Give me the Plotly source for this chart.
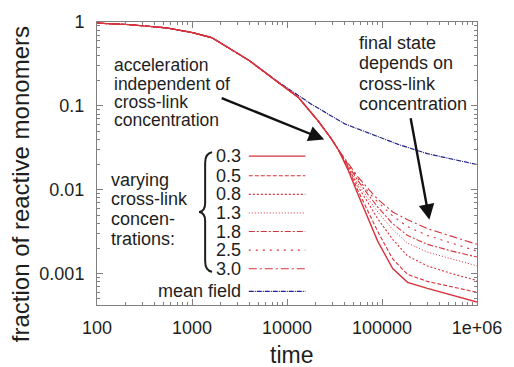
import plotly.graph_objects as go

# ---------------- data ----------------
concentrations = ["0.3", "0.5", "0.8", "1.3", "1.8", "2.5", "3.0"]

# common early part shared by all cross-link concentrations
t_common = [100, 220, 540, 1000, 1620, 2700, 3960, 8150, 13200, 21300, 29200]
f_common = [0.97, 0.93, 0.85, 0.75, 0.65, 0.46, 0.35, 0.189, 0.126, 0.066, 0.0408]

# late part, where the curves separate
t_tail = [34500, 43900, 55800, 71000, 90300, 129500, 185800, 300500, 548000, 1000000]
f_tail_03 = [0.0304, 0.0173, 0.00884, 0.00452, 0.00243, 0.00115, 0.00079, 0.00067, 0.00055, 0.00046]
f_tail_05 = [0.0304, 0.0183, 0.00984, 0.00560, 0.00318, 0.00150, 0.00098, 0.00081, 0.00069, 0.00060]
f_tail_08 = [0.0304, 0.0188, 0.0110, 0.00694, 0.00452, 0.00257, 0.00163, 0.00124, 0.00100, 0.00083]
f_tail_13 = [0.0304, 0.0193, 0.0119, 0.00794, 0.00545, 0.00336, 0.00231, 0.00181, 0.00150, 0.00124]
f_tail_18 = [0.0304, 0.0198, 0.0129, 0.00884, 0.00623, 0.00395, 0.00286, 0.00224, 0.00186, 0.00158]
f_tail_25 = [0.0304, 0.0203, 0.0136, 0.00958, 0.00713, 0.00490, 0.00364, 0.00286, 0.00231, 0.00186]
f_tail_30 = [0.0304, 0.0209, 0.0143, 0.0104, 0.00773, 0.00545, 0.00440, 0.00345, 0.00279, 0.00224]

t_mean = [100, 220, 540, 1000, 1620, 2700, 3960, 8150, 18000, 40700, 90000, 146000, 300000, 600000, 1000000]
f_mean = [0.97, 0.93, 0.85, 0.75, 0.65, 0.46, 0.35, 0.192, 0.105, 0.061, 0.043, 0.035, 0.027, 0.0225, 0.020]

x_tickvals = [100, 1000, 10000, 100000, 1000000]
x_ticktext = ["100", "1000", "10000", "100000", "1e+06"]
y_tickvals = [1, 0.1, 0.01, 0.001]
y_ticktext = ["1", "0.1", "0.01", "0.001"]

# ---------------- styling ----------------
RED = "#d8323c"
BLUE = "#22228a"
TXT = "#1e1e1e"
AX = "#808080"
FONT = "Liberation Sans, Arial, sans-serif"

tails = [f_tail_03, f_tail_05, f_tail_08, f_tail_13, f_tail_18, f_tail_25, f_tail_30]
dashes = ["solid", "4px,2px", "2px,2px", "1px,2px", "6px,2px,2px,2px", "2px,5px", "8px,3px,2px,3px"]
widths = [1.4, 1.1, 1.1, 1.0, 1.1, 1.1, 1.1]
MEAN_DASH = "5px,1px,1px,1px"

W, H = 514, 367
L, R, T, B = 97, 480, 16, 305


def px(x):
    return (x - L) / (R - L)


def py(y):
    return (B - y) / (B - T)


fig = go.Figure()

fig.add_trace(go.Scatter(x=t_mean, y=f_mean, mode="lines",
                         line=dict(color=BLUE, width=1.2, dash=MEAN_DASH),
                         name="mean field", showlegend=False))

for i in reversed(range(len(concentrations))):
    fig.add_trace(go.Scatter(x=t_common + t_tail, y=f_common + tails[i], mode="lines",
                             line=dict(color=RED, width=widths[i], dash=dashes[i]),
                             name=concentrations[i], showlegend=False))

minor_x = [m * 10 ** k for k in range(2, 6) for m in range(2, 10)]
minor_y = [m * 10 ** k for k in range(-4, 0) for m in range(2, 10)]

fig.update_xaxes(type="log", range=[2, 6], tickmode="array", tickvals=x_tickvals, ticktext=x_ticktext,
                 ticks="inside", ticklen=6, tickcolor=AX, showline=True, linecolor=AX, linewidth=1,
                 mirror="ticks", showgrid=False, zeroline=False,
                 tickfont=dict(family=FONT, size=18, color=TXT), ticklabelstandoff=6,
                 minor=dict(tickmode="array", tickvals=minor_x, ticks="inside", ticklen=3,
                            tickcolor=AX, showgrid=False))
fig.update_yaxes(type="log", range=[-3.3726, 0], tickmode="array", tickvals=y_tickvals, ticktext=y_ticktext,
                 ticks="inside", ticklen=6, tickcolor=AX, showline=True, linecolor=AX, linewidth=1,
                 mirror="ticks", showgrid=False, zeroline=False,
                 tickfont=dict(family=FONT, size=18, color=TXT), ticklabelstandoff=8,
                 minor=dict(tickmode="array", tickvals=minor_y, ticks="inside", ticklen=3,
                            tickcolor=AX, showgrid=False))

annotations = []
shapes = []


def text(s, x, y, anchor="left", size=18):
    annotations.append(dict(text=s, x=px(x), y=py(y), xref="paper", yref="paper",
                            xanchor=anchor, yanchor="middle", showarrow=False,
                            font=dict(family=FONT, size=size, color=TXT)))


for s, y in zip(["acceleration", "independent of", "cross-link", "concentration"], [60, 79, 97.5, 116]):
    text(s, 112, y, size=17.5)
for s, y in zip(["final state", "depends on", "cross-link", "concentration"], [37, 58, 79, 100]):
    text(s, 359, y)
for s, y in zip(["varying", "cross-link", "concen-", "trations:"], [177, 197, 217, 238]):
    text(s, 109, y)

rows = [153, 173, 192, 211, 230, 249, 268]
for i, c in enumerate(concentrations):
    text(c, 244, rows[i], anchor="right")
    shapes.append(dict(type="line", xref="paper", yref="paper", x0=px(250), x1=px(307),
                       y0=py(rows[i]), y1=py(rows[i]),
                       line=dict(color=RED, width=widths[i], dash=dashes[i])))
text("mean field", 244, 291, anchor="right")
shapes.append(dict(type="line", xref="paper", yref="paper", x0=px(250), x1=px(307),
                   y0=py(291), y1=py(291), line=dict(color=BLUE, width=1.2, dash=MEAN_DASH)))

# curly brace
pts = [("M", 213, 149), ("Q", 206, 150, 206, 160), ("L", 206, 201), ("Q", 206, 209, 200, 210),
       ("Q", 206, 211, 206, 219), ("L", 206, 260), ("Q", 206, 270, 213, 271)]
path = ""
for p in pts:
    cmd = p[0]
    coords = p[1:]
    pairs = []
    for j in range(0, len(coords), 2):
        pairs.append(f"{px(coords[j]):.5f},{py(coords[j + 1]):.5f}")
    path += cmd + " " + " ".join(pairs) + " "
shapes.append(dict(type="path", xref="paper", yref="paper", path=path.strip(),
                   line=dict(color=TXT, width=2)))

# arrows
for (tx, ty), (sx, sy) in [((326, 136), (222, 94)), ((432, 218), (413, 115))]:
    annotations.append(dict(text="", x=px(tx), y=py(ty), xref="paper", yref="paper",
                            ax=sx - tx, ay=sy - ty, axref="pixel", ayref="pixel",
                            showarrow=True, arrowhead=2, arrowsize=1.3, arrowwidth=2.4,
                            arrowcolor="#111111"))

# axis titles
annotations.append(dict(text="time", x=px(293), y=py(356), xref="paper", yref="paper",
                        xanchor="center", yanchor="middle", showarrow=False,
                        font=dict(family=FONT, size=23, color=TXT)))
annotations.append(dict(text="fraction of reactive monomers", x=px(20), y=py(182), xref="paper",
                        yref="paper", xanchor="center", yanchor="middle", showarrow=False,
                        textangle=-90, font=dict(family=FONT, size=24, color=TXT)))

fig.update_layout(width=W, height=H, margin=dict(l=L, r=W - R, t=T, b=H - B),
                  paper_bgcolor="white", plot_bgcolor="white",
                  annotations=annotations, shapes=shapes, showlegend=False)

fig.write_html("out.html")
